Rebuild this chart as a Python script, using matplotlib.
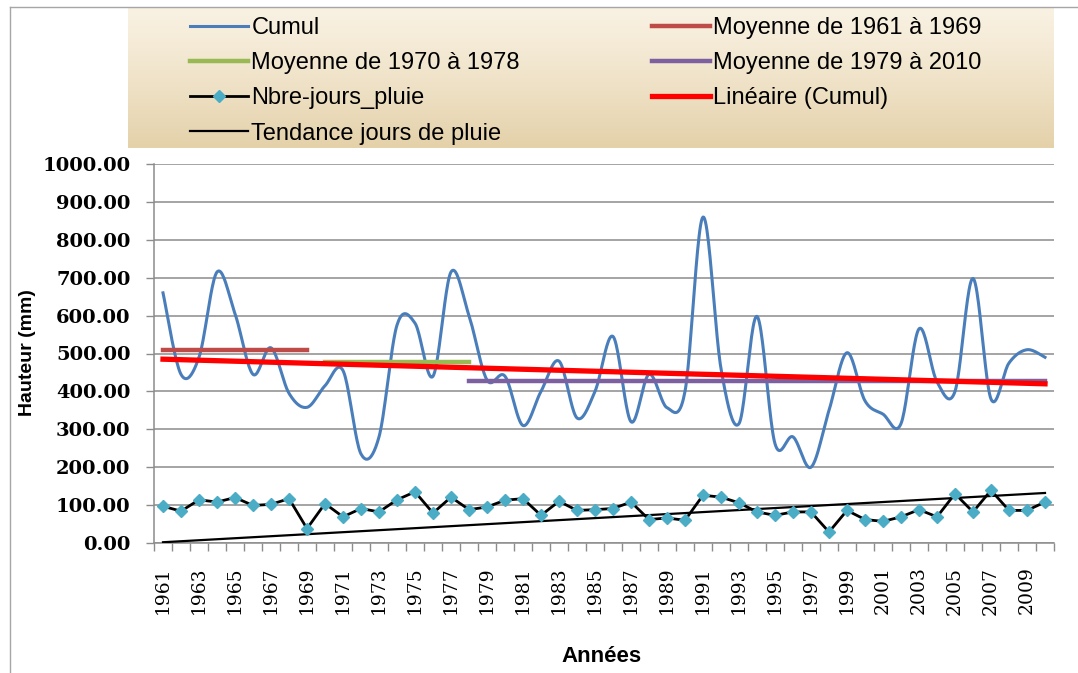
import numpy as np
import matplotlib
matplotlib.use("Agg")
import matplotlib.pyplot as plt
from matplotlib import font_manager
from matplotlib.lines import Line2D

# donnees
annees = list(range(1961, 2011))
cumul = [660, 445, 490, 715, 605, 445, 515, 395, 358, 415,
         455, 235, 280, 575, 580, 440, 715, 600, 430, 440,
         310, 400, 480, 330, 400, 545, 320, 445, 357, 400,
         860, 460, 315, 598, 262, 280, 200, 350, 502, 375,
         340, 315, 565, 425, 400, 698, 380, 475, 510, 490]
nbre_jours = [97, 84, 114, 108, 120, 99, 102, 117, 38, 104,
              69, 91, 82, 114, 135, 79, 121, 88, 95, 113,
              117, 73, 110, 86, 88, 91, 108, 62, 66, 60,
              126, 121, 106, 82, 73, 82, 82, 29, 86, 62,
              57, 69, 88, 69, 130, 82, 139, 86, 86, 108]
moy_periodes = [(1961, 1969), (1970, 1978), (1978, 2010)]
moy_valeurs = [510, 478, 428]
moy_noms = ["Moyenne de 1961 à 1969", "Moyenne de 1970 à 1978", "Moyenne de 1979 à 2010"]
lineaire_cumul = [485, 420]      # valeurs en 1961 et 2010
tendance_jours = [2, 132]        # valeurs en 1961 et 2010
yticks = list(range(0, 1001, 100))
xlabels = list(range(1961, 2010, 2))

BLEU = "#4A7EBB"
MOY_COUL = ["#BE4B48", "#98B954", "#7D60A0"]
CYAN = "#4BACC6"
GRIS = "#8C8C8C"

names = {f.name for f in font_manager.fontManager.ttflist}
sans = "Liberation Sans"
narrow = "Liberation Sans Narrow" if "Liberation Sans Narrow" in names else sans
ylab_size = 17 if narrow != sans else 14


def lisse(x, y, n=24):
    # courbe lissee type Excel (Bezier / Catmull-Rom)
    x = np.asarray(x, float)
    y = np.asarray(y, float)
    px = np.concatenate([[x[0]], x, [x[-1]]])
    py = np.concatenate([[y[0]], y, [y[-1]]])
    t = np.linspace(0, 1, n)
    xs, ys = [], []
    for i in range(len(x) - 1):
        p0 = np.array([px[i], py[i]])
        p1 = np.array([px[i + 1], py[i + 1]])
        p2 = np.array([px[i + 2], py[i + 2]])
        p3 = np.array([px[i + 3], py[i + 3]])
        c1 = p1 + (p2 - p0) / 6
        c2 = p2 - (p3 - p1) / 6
        b = (np.outer((1 - t) ** 3, p1) + np.outer(3 * (1 - t) ** 2 * t, c1)
             + np.outer(3 * (1 - t) * t ** 2, c2) + np.outer(t ** 3, p2))
        xs.extend(b[:, 0])
        ys.extend(b[:, 1])
    return xs, ys


W, H = 1078, 673
fig = plt.figure(figsize=(W / 100, H / 100), dpi=100)
fig.patch.set_facecolor("white")

# cadre du graphique
fig.add_artist(Line2D([10 / W, 10 / W], [0, 1 - 7 / H], color="#A6A6A6", lw=1))
fig.add_artist(Line2D([10 / W, 1], [1 - 7 / H, 1 - 7 / H], color="#A6A6A6", lw=1))

# fond de la legende (degrade beige)
lax = fig.add_axes([128 / W, 1 - 148 / H, (1054 - 128) / W, 140 / H])
grad = np.linspace(0, 1, 100)[:, None]
c_haut = np.array([0.975, 0.945, 0.885])
c_bas = np.array([0.895, 0.820, 0.665])
img = c_haut + (c_bas - c_haut) * grad[..., None] ** 1.2
lax.imshow(img * np.ones((1, 10, 1)), aspect="auto", extent=[0, 1, 0, 1])
lax.axis("off")

ax = fig.add_axes([154 / W, 1 - 543 / H, (1054 - 154) / W, (543 - 164) / H])
ax.set_facecolor("white")

xs, ys = lisse(annees, cumul)
l_cumul, = ax.plot(xs, ys, color=BLEU, lw=2.2, zorder=3)

l_moy = []
for (a, b), v, c in zip(moy_periodes, moy_valeurs, MOY_COUL):
    l, = ax.plot([a, b], [v, v], color=c, lw=3.2, zorder=4)
    l_moy.append(l)

l_nbre, = ax.plot(annees, nbre_jours, color="black", lw=2.0, marker="D",
                  markersize=6.5, markerfacecolor=CYAN, markeredgecolor=CYAN, zorder=5)
l_lin, = ax.plot([annees[0], annees[-1]], lineaire_cumul, color="#FF0000", lw=3.8, zorder=4)
l_tend, = ax.plot([annees[0], annees[-1]], tendance_jours, color="black", lw=1.6, zorder=4)

ax.set_xlim(1960.5, 2010.5)
ax.set_ylim(0, 1000)
ax.set_yticks(yticks)
ax.set_yticklabels(["%.2f" % v for v in yticks], fontfamily="DejaVu Serif",
                   fontweight="bold", fontsize=14)
ax.set_xticks(xlabels)
ax.set_xticklabels([str(a) for a in xlabels], rotation=90, fontfamily="DejaVu Serif",
                   fontsize=13.5)
ax.set_xticks(np.arange(1960.5, 2011, 1), minor=True)
ax.tick_params(axis="x", which="major", length=0, pad=17)
ax.tick_params(axis="x", which="minor", length=6, color=GRIS, width=1)
ax.tick_params(axis="y", length=6, color=GRIS, width=1, pad=11)
ax.grid(axis="y", color=GRIS, lw=1.1, zorder=0)
ax.set_axisbelow(True)
for s in ["top", "right"]:
    ax.spines[s].set_visible(False)
for s in ["left", "bottom"]:
    ax.spines[s].set_color(GRIS)
    ax.spines[s].set_linewidth(1.1)

fig.text(28 / W, 1 - 353 / H, "Hauteur (mm)", rotation=90, ha="center", va="center",
         fontfamily=narrow, fontweight="bold", fontsize=ylab_size)
fig.text(602 / W, 1 - 656 / H, "Années", ha="center", va="center",
         fontfamily=sans, fontweight="bold", fontsize=16)

leg_kw = dict(loc="upper left", frameon=False, prop={"family": sans, "size": 17},
              handlelength=2.45, handletextpad=0.15, labelspacing=0.56,
              borderpad=0, borderaxespad=0)
fig.legend([l_cumul, l_moy[1], l_nbre, l_tend],
           ["Cumul", moy_noms[1], "Nbre-jours_pluie", "Tendance jours de pluie"],
           bbox_to_anchor=(190 / W, 1 - 17 / H), **leg_kw)
fig.legend([l_moy[0], l_moy[2], l_lin],
           [moy_noms[0], moy_noms[2], "Linéaire (Cumul)"],
           bbox_to_anchor=(652 / W, 1 - 17 / H), **leg_kw)

fig.savefig("out.png", dpi=100)
